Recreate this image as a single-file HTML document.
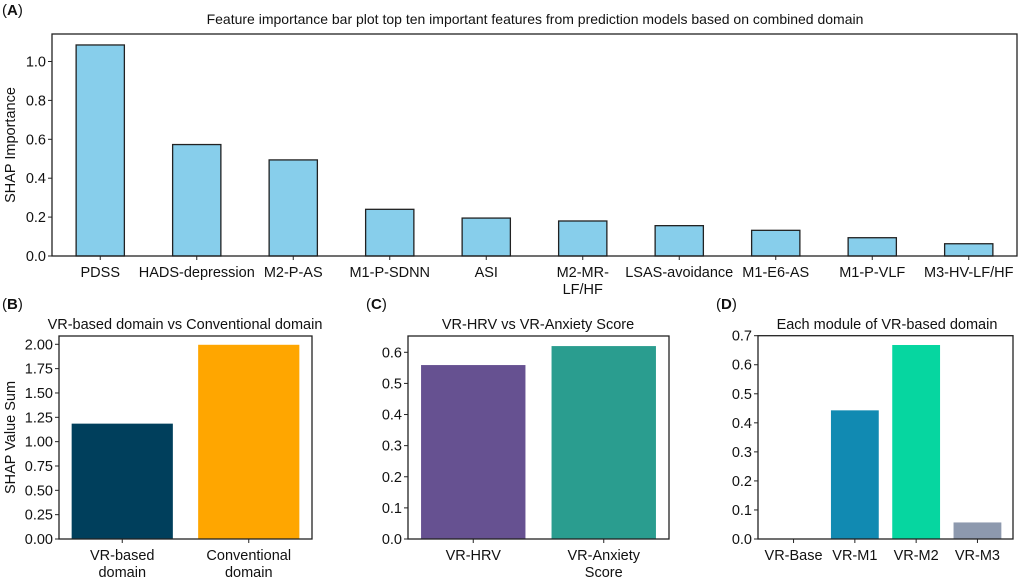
<!DOCTYPE html>
<html><head><meta charset="utf-8"><style>
body{margin:0;background:#fff}
svg text{font-family:"Liberation Sans",Arial,sans-serif;fill:#111}
</style></head><body>
<svg id="fig" width="1022" height="578" xmlns="http://www.w3.org/2000/svg"></svg>
<script>
const aCats=["PDSS","HADS-depression","M2-P-AS","M1-P-SDNN","ASI","M2-MR-\nLF/HF","LSAS-avoidance","M1-E6-AS","M1-P-VLF","M3-HV-LF/HF"];
const aVals=[1.085,0.573,0.494,0.24,0.195,0.18,0.156,0.132,0.094,0.063];
const aTicks=["0.0","0.2","0.4","0.6","0.8","1.0"];
const bCats=["VR-based\ndomain","Conventional\ndomain"];
const bVals=[1.185,1.995];
const bTicks=["0.00","0.25","0.50","0.75","1.00","1.25","1.50","1.75","2.00"];
const cCats=["VR-HRV","VR-Anxiety\nScore"];
const cVals=[0.559,0.62];
const cTicks=["0.0","0.1","0.2","0.3","0.4","0.5","0.6"];
const dCats=["VR-Base","VR-M1","VR-M2","VR-M3"];
const dVals=[0.0,0.443,0.668,0.057];
const dTicks=["0.0","0.1","0.2","0.3","0.4","0.5","0.6","0.7"];

const svg=document.getElementById('fig');
const NS="http://www.w3.org/2000/svg";
const FS=14.5;
function mk(tag,attrs,parent){const e=document.createElementNS(NS,tag);for(const k in attrs)e.setAttribute(k,attrs[k]);(parent||svg).appendChild(e);return e;}
function txt(s,x,y,size,anchor,parent,extra){const t=mk('text',Object.assign({x:x,y:y,'font-size':size,'text-anchor':anchor||'middle'},extra||{}),parent);t.textContent=s;return t;}

function panel(o){
  const g=mk('g',{});
  
  
  const n=o.cats.length;
  const unit=(o.x1-o.x0)/(n-1+2*o.pad);
  const xs=i=>o.x0+(o.pad+i)*unit;
  const ys=v=>o.y1-(v/o.ymax)*(o.y1-o.y0v);
  o.vals.forEach((v,i)=>{
    const bw=o.bw*unit;
    const r=mk('rect',{x:xs(i)-bw/2,y:ys(v),width:bw,height:Math.max(0,o.y1-ys(v)),fill:o.colors[i%o.colors.length],stroke:o.stroke||'none','stroke-width':o.stroke?1.3:0},g);
    
    
    const lines=o.cats[i].split('\n');
    lines.forEach((l,k)=>{
      const t=txt(l,xs(i),o.y1+21+k*17,FS,'middle',g);
      
      
    });
    mk('line',{x1:xs(i),x2:xs(i),y1:o.y1,y2:o.y1+4,stroke:'#222','stroke-width':1},g);
  });
  o.ticks.forEach(s=>{
    const v=parseFloat(s);const y=ys(v);
    mk('line',{x1:o.x0-4,x2:o.x0,y1:y,y2:y,stroke:'#222','stroke-width':1},g);
    const t=txt(s,o.x0-6,y+5,FS,'end',g);
    
    
  });
  const box=mk('rect',{x:o.x0,y:o.yTop,width:o.x1-o.x0,height:o.y1-o.yTop,fill:'none',stroke:'#222','stroke-width':1.3},g);
  
  
  const ti=txt(o.title,o.tx,o.ty,o.tsize||FS,'middle',g);
  
  
  if(o.ylabel){const yl=txt(o.ylabel,0,0,FS,'middle',g,{transform:`translate(${o.ylx},${(o.yTop+o.y1)/2}) rotate(-90)`});
    
    }
  const pl=mk('text',{x:o.lx,y:o.ly,'font-size':15,'text-anchor':'start'},g);
  pl.innerHTML='(<tspan font-weight="bold">'+o.letter+'</tspan>)';
  
  
}
panel({name:'panel-a',cats:aCats,vals:aVals,ticks:aTicks,x0:52,x1:1017,pad:0.5,bw:0.5,y1:256,y0v:61.5,ymax:1.0,yTop:34,
  colors:['#87ceeb'],stroke:'#222',title:'Feature importance bar plot top ten important features from prediction models based on combined domain',tx:535,ty:24,tsize:14,
  ylabel:'SHAP Importance',ylx:15,letter:'A',lx:2,ly:15});
panel({name:'panel-b',cats:bCats,vals:bVals,ticks:bTicks,x0:59,x1:312,pad:0.5,bw:0.8,y1:539,y0v:344.3,ymax:2.0,yTop:336,
  colors:['#003f5c','#ffa600'],title:'VR-based domain vs Conventional domain',tx:185,ty:329,
  ylabel:'SHAP Value Sum',ylx:15,letter:'B',lx:2,ly:309});
panel({name:'panel-c',cats:cCats,vals:cVals,ticks:cTicks,x0:408,x1:669,pad:0.5,bw:0.8,y1:539,y0v:352.3,ymax:0.6,yTop:336,
  colors:['#665191','#2a9d8f'],title:'VR-HRV vs VR-Anxiety Score',tx:538,ty:329,letter:'C',lx:366,ly:309});
panel({name:'panel-d',cats:dCats,vals:dVals,ticks:dTicks,x0:758,x1:1013,pad:0.58,bw:0.78,y1:539,y0v:335.7,ymax:0.7,yTop:335.7,
  colors:['#ffffff','#118ab2','#06d6a0','#8d99ae'],title:'Each module of VR-based domain',tx:887,ty:329,letter:'D',lx:716,ly:309});
</script>
</body></html>
